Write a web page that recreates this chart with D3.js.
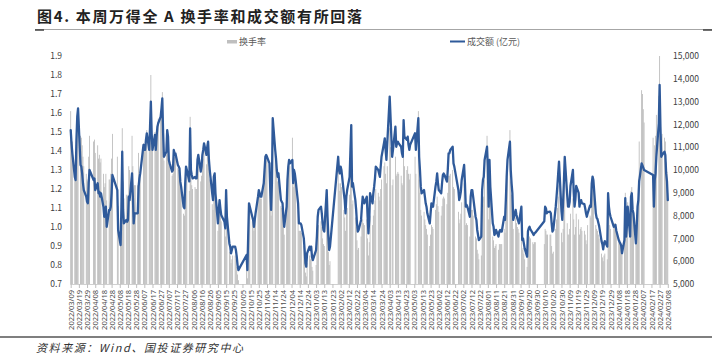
<!DOCTYPE html>
<html><head><meta charset="utf-8">
<script src="https://cdn.jsdelivr.net/npm/d3@7"></script>
<style>
html,body{margin:0;padding:0;background:#fff;}
text{font-family:"Noto Sans CJK SC","Noto Sans",sans-serif;}
</style></head>
<body><svg id="c" width="715" height="358"></svg>
<script>
// ---------- data ----------
const titleText = "图4. 本周万得全 A 换手率和成交额有所回落";
const sourceText = "资料来源：Wind、国投证券研究中心";
const seriesNames = ["换手率", "成交额 (亿元)"];
const startDate = "2022-03-09", endDate = "2024-03-08";
const holidays = ["2022-04-04","2022-04-05","2022-05-02","2022-05-03","2022-05-04","2022-06-03","2022-09-12",
  "2022-10-03","2022-10-04","2022-10-05","2022-10-06","2022-10-07",
  "2023-01-02","2023-01-23","2023-01-24","2023-01-25","2023-01-26","2023-01-27","2023-04-05",
  "2023-05-01","2023-05-02","2023-05-03","2023-06-22","2023-06-23","2023-09-29",
  "2023-10-02","2023-10-03","2023-10-04","2023-10-05","2023-10-06",
  "2024-01-01","2024-02-09","2024-02-12","2024-02-13","2024-02-14","2024-02-15","2024-02-16"];
const leftTicks = [0.7,0.8,0.9,1.0,1.1,1.2,1.3,1.4,1.5,1.6,1.7,1.8,1.9];
const rightTicks = [5000,6000,7000,8000,9000,10000,11000,12000,13000,14000,15000];
const xTickStepDays = 10;

// 成交额 (亿元), one value per trading day
const amount2022 = [
 11750,11170,10730,9700,9560,11320,12340,12700,10220,10150,9850,9420,9120,8830,8610,8540,9420,
 10000,9560,9630,9120,9420,8980,9050,8830,8980,8390,7950,8100,8390,7510,8250,8250,8390,8980,9780,
 9120,7370,6710,8390,10800,8250,7660,7810,7730,7810,8830,8680,9850,8830,7660,8100,8100,8100,9270,
 9630,9850,11100,10880,10880,11320,11610,10880,11900,13000,11610,10880,11540,10880,11460,11900,12050,12340,12700,13140,11610,
 10580,10800,11750,11460,10440,10290,9930,10000,10880,10730,10730,10220,10150,10070,9490,9270,8390,8320,9420,10150,10000,
 9500,11830,10000,9780,9630,9700,9630,9630,10440,10660,9930,10150,10660,10880,11170,10660,11020,11240,10440,10000,8980,8680,9700,
 9850,8980,7660,8250,8680,8320,8030,7730,7440,9120,7950,6780,6640,6340,6490,6640,6640,6490,6200,5830,5610,
 6270,5610,7080,8540,8390,7950,7810,7510,7810,8100,8830,9120,8980,8830,8830,9420,
 10000,10580,10660,10580,10290,9120,8250,9420,12270,10880,10510,10000,9700,9850,8680,8610,8540,7950,7510,8390,9560,10150,
 10440,10290,10440,9420,10000,9850,9560,8540,7660,7660,7660,7590,7000,6490,5910,5760,6340,6640,6490,6640,6200,6050];
const amount2023 = [
 6490,7080,7950,8250,8390,8100,7660,7370,7300,9120,7950,7080,6490,6640,10580,10000,
 9850,10150,10000,8980,8680,8100,8830,9120,9700,10880,11970,9270,9420,8680,8250,7660,7300,7370,7810,8390,
 8830,8680,8540,8830,7950,7220,7810,8980,8540,8980,9270,9630,10150,10000,9850,9700,10150,10580,11170,11390,10880,10440,11170,
 13220,12340,10580,10880,11900,11020,11170,11240,11170,11020,10730,10580,12190,11460,11320,11460,11100,10880,11100,
 11610,10880,12270,10580,10000,9270,8980,9120,8830,8540,8390,8100,7660,8100,8540,8470,8390,9270,9490,9850,
 9420,9120,8980,9420,9780,9850,9780,9490,10000,10730,10730,10880,11020,10290,10150,9120,8680,8830,9050,9560,
 10220,9420,8390,8470,8390,7950,8830,9120,9120,8830,7950,7810,7370,7150,6930,7080,9120,9560,9700,10440,11020,
 10150,8390,10440,9270,7660,7510,7150,7220,7370,7080,7300,7370,7300,7300,7950,7810,8680,9700,10440,11240,10000,9420,8980,
 7810,8250,8030,7880,7780,7660,8390,6930,7000,6780,6560,6200,7300,7440,7510,7400,7220,7150,7220,7250,
 7750,8390,8320,8100,8150,8170,8100,7660,7300,7370,8390,8830,9300,9850,10370,8200,7810,
 8600,9500,10580,8900,8390,8390,8600,9300,10000,9000,8390,8700,9300,9000,8390,8600,8680,8540,8500,8320,8100,7950,
 8100,8450,8390,9400,9710,9560,8100,7900,7850,7700,7550,6880,6750,6520,6780,6880,6640,8980,8390,8100,7950];
const amount2024 = [
 7510,7550,7590,7350,6930,6850,6780,6680,6350,6930,8760,7080,7510,8390,7080,8830,8980,8250,8100,6780,7510,8390,
 8680,9500,10290,10200,10100,10000,9780,8390,9560,9850,10580,12050,13730,11900,10580,
 10660,10800,10660,9850,9500,8680];

// 换手率 (%), one value per trading day
const turnover2022 = [
 1.61,1.51,1.45,1.31,1.29,1.45,1.58,1.62,1.48,1.47,1.43,1.37,1.32,1.28,1.25,1.24,1.37,
 1.48,1.45,1.46,1.39,1.43,1.36,1.38,1.34,1.36,1.28,1.21,1.23,1.28,1.14,1.25,1.25,1.28,1.36,1.49,
 1.37,1.11,1.01,1.26,1.52,1.24,1.15,1.17,1.16,1.17,1.32,1.30,1.48,1.32,1.15,1.22,1.22,1.22,1.39,
 1.25,1.28,1.44,1.41,1.41,1.47,1.51,1.41,1.55,1.80,1.51,1.41,1.50,1.41,1.49,1.55,1.57,1.60,1.65,1.71,1.51,
 1.35,1.38,1.50,1.47,1.34,1.32,1.27,1.28,1.39,1.37,1.37,1.31,1.30,1.29,1.21,1.19,1.07,1.06,1.21,1.30,1.28,
 1.19,1.58,1.25,1.22,1.20,1.21,1.20,1.20,1.31,1.33,1.24,1.27,1.33,1.36,1.40,1.33,1.38,1.41,1.31,1.25,1.12,1.09,1.21,
 1.26,1.15,0.98,1.06,1.11,1.06,1.03,0.99,0.95,1.17,1.02,0.87,0.85,0.81,0.83,0.85,0.85,0.83,0.79,0.75,0.72,
 0.82,0.73,0.92,1.11,1.09,1.03,1.02,0.98,1.02,1.05,1.15,1.19,1.17,1.15,1.15,1.22,
 1.28,1.35,1.36,1.35,1.32,1.17,1.06,1.21,1.57,1.39,1.35,1.28,1.24,1.26,1.11,1.10,1.09,1.02,0.96,1.07,1.22,1.30,
 1.34,1.32,1.47,1.21,1.28,1.26,1.22,1.09,0.98,0.98,0.98,0.97,0.90,0.83,0.76,0.74,0.81,0.85,0.83,0.85,0.79,0.77];
const turnover2023 = [
 0.80,0.87,0.98,1.01,1.03,1.00,0.94,0.91,0.90,1.12,0.98,0.87,0.80,0.82,1.30,1.23,
 1.19,1.23,1.21,1.09,1.05,0.98,1.07,1.10,1.17,1.32,1.45,1.12,1.14,1.05,1.00,0.93,0.88,0.89,0.95,1.02,
 1.04,1.02,1.01,1.04,0.94,0.85,0.92,1.06,1.01,1.06,1.09,1.14,1.20,1.18,1.16,1.14,1.20,1.25,1.32,1.34,1.28,1.23,1.32,
 1.52,1.42,1.22,1.25,1.37,1.27,1.28,1.29,1.28,1.27,1.23,1.22,1.40,1.32,1.30,1.32,1.28,1.25,1.28,
 1.37,1.28,1.61,1.25,1.18,1.09,1.06,1.08,1.04,1.01,0.99,0.96,0.90,0.96,1.01,1.00,0.99,1.09,1.12,1.16,
 1.11,1.08,1.06,1.11,1.15,1.16,1.15,1.12,1.18,1.27,1.27,1.28,1.30,1.21,1.20,1.08,1.02,1.04,1.07,1.13,
 1.23,1.13,1.01,1.02,1.01,0.95,1.06,1.09,1.09,1.06,0.95,0.94,0.88,0.86,0.83,0.85,1.09,1.15,1.16,1.25,1.48,
 1.26,1.04,1.29,1.15,0.95,0.93,0.89,0.90,0.91,0.88,0.91,0.91,0.91,0.91,0.99,0.97,1.08,1.20,1.29,1.51,1.24,1.17,1.11,
 0.99,1.05,1.02,1.00,0.99,0.97,1.07,0.88,0.89,0.86,0.83,0.79,0.93,0.94,0.95,0.94,0.92,0.91,0.92,0.92,
 0.91,0.99,0.98,0.96,0.96,0.96,0.96,0.90,0.86,0.87,0.99,1.04,1.10,1.16,1.22,0.97,0.92,
 0.99,1.09,1.22,1.02,0.96,0.96,0.99,1.07,1.15,1.04,0.96,1.00,1.07,1.04,0.96,0.99,1.00,0.98,0.98,0.96,0.93,0.91,
 1.01,1.06,1.05,1.18,1.21,1.20,1.01,0.99,0.98,0.96,0.94,0.86,0.84,0.82,0.85,0.86,0.83,1.12,1.05,1.01,0.99];
const turnover2024 = [
 1.01,1.02,1.02,0.99,0.94,0.92,0.92,0.90,0.86,0.94,1.18,0.96,1.01,1.13,0.96,1.19,1.21,1.11,1.09,0.92,1.01,1.13,
 1.25,1.45,1.72,1.70,1.62,1.55,1.47,1.26,1.43,1.48,1.59,1.69,1.90,1.67,1.48,
 1.49,1.47,1.45,1.34,1.29,1.18];

// ---------- build ----------
const parse = d3.utcParse("%Y-%m-%d");
const fmtKey = d3.utcFormat("%Y-%m-%d");
const hol = new Set(holidays);
const d0 = parse(startDate), d1 = parse(endDate);
const days = d3.utcDay.range(d0, d3.utcDay.offset(d1, 1))
  .filter(d => d.getUTCDay() !== 0 && d.getUTCDay() !== 6 && !hol.has(fmtKey(d)));
const amounts = amount2022.concat(amount2023, amount2024);
const turnovers = turnover2022.concat(turnover2023, turnover2024);
const n = Math.min(days.length, amounts.length, turnovers.length);
const data = d3.range(n).map(i => ({date: days[i], a: amounts[i], t: turnovers[i]}));

const svg = d3.select("#c");
svg.append("rect").attr("width",715).attr("height",358).attr("fill","#fff");

const plotTop = 56, plotBottom = 284;
const x = d3.scaleUtc().domain([d0, d1]).range([70.7, 667.8]);
const yL = d3.scaleLinear().domain([0.7, 1.9]).range([plotBottom, plotTop]);
const yR = d3.scaleLinear().domain([5000, 15000]).range([plotBottom, plotTop]);
const dayW = x(d3.utcDay.offset(d0,1)) - x(d0);

// title
svg.append("text").attr("x",37).attr("y",22).attr("textLength",325).attr("lengthAdjust","spacing")
  .attr("font-size",15).attr("font-weight","bold").attr("fill","#222").text(titleText);
svg.append("line").attr("x1",35).attr("x2",712).attr("y1",29.5).attr("y2",29.5).attr("stroke","#a6a6a6").attr("stroke-width",1);
svg.append("line").attr("x1",35).attr("x2",44).attr("y1",30).attr("y2",30).attr("stroke","#404040").attr("stroke-width",1.5);
svg.append("line").attr("x1",703).attr("x2",712).attr("y1",30).attr("y2",30).attr("stroke","#404040").attr("stroke-width",1.5);

// legend
svg.append("rect").attr("x",227).attr("y",40).attr("width",10).attr("height",3.5).attr("fill","#bfbfbf");
svg.append("text").attr("x",239).attr("y",45).attr("font-size",9).attr("fill","#595959").text(seriesNames[0]);
svg.append("line").attr("x1",450).attr("x2",465).attr("y1",41.5).attr("y2",41.5).attr("stroke","#2f5a9a").attr("stroke-width",2);
svg.append("text").attr("x",467).attr("y",45).attr("font-size",9).attr("fill","#595959").text(seriesNames[1]);

// bars
svg.append("g").selectAll("rect").data(data).join("rect")
  .attr("x", d => x(d.date) - dayW/2)
  .attr("width", dayW)
  .attr("y", d => yL(d.t))
  .attr("height", d => plotBottom - yL(d.t))
  .attr("fill", "#b8b8b8");

// line
svg.append("path").datum(data)
  .attr("fill","none").attr("stroke","#2f5a9a").attr("stroke-width",2.3)
  .attr("stroke-linejoin","round").attr("stroke-linecap","round")
  .attr("d", d3.line().x(d => x(d.date)).y(d => yR(d.a)));

// axes
const gL = svg.append("g").attr("transform","translate(65,0)")
  .call(d3.axisLeft(yL).tickValues(leftTicks).tickSize(0).tickPadding(3).tickFormat(d3.format(".1f")));
const gR = svg.append("g").attr("transform","translate(670,0)")
  .call(d3.axisRight(yR).tickValues(rightTicks).tickSize(0).tickPadding(3).tickFormat(d3.format(",")));
[gL, gR].forEach(g => {
  g.select(".domain").remove();
  g.selectAll("text").attr("font-size",8.5).attr("fill","#404040").style("font-family","'Noto Sans CJK SC','Noto Sans',sans-serif");
});

const xTicks = d3.range(0, d3.utcDay.count(d0, d1) + 1, xTickStepDays).map(k => d3.utcDay.offset(d0, k));
const gX = svg.append("g").attr("transform",`translate(0,${plotBottom})`)
  .call(d3.axisBottom(x).tickValues(xTicks).tickSize(4).tickSizeOuter(0).tickFormat(d3.utcFormat("%Y/%m/%d")));
gX.select(".domain").attr("stroke","#d0d0d0").attr("d", `M${x(d0)-dayW/2},0.5H${x(d1)+dayW/2}`);
gX.selectAll(".tick line").attr("stroke","#bfbfbf");
gX.selectAll("text").attr("font-size",7.5).attr("fill","#4d4d4d")
  .style("font-family","'Noto Sans','DejaVu Sans',sans-serif")
  .attr("transform","rotate(-90)").attr("x",-6).attr("y",0).attr("dy","0.35em").style("text-anchor","end");

// footer
svg.append("line").attr("x1",0).attr("x2",712).attr("y1",337).attr("y2",337).attr("stroke","#555").attr("stroke-width",1.3);
svg.append("text").attr("x",36).attr("y",352).attr("textLength",207).attr("lengthAdjust","spacing")
  .attr("font-size",11).attr("font-style","italic").attr("fill","#333").text(sourceText);
</script></body></html>
